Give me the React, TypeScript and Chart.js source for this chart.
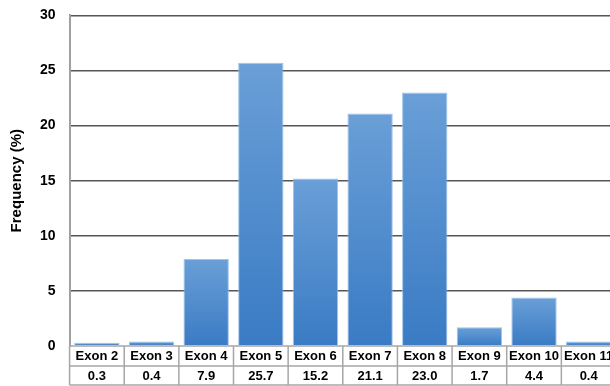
import React, { useEffect, useRef } from "react";
import { Chart, registerables } from "chart.js";

Chart.register(...registerables);

const categories = ["Exon 2", "Exon 3", "Exon 4", "Exon 5", "Exon 6", "Exon 7", "Exon 8", "Exon 9", "Exon 10", "Exon 11"];
const frequencies = [0.3, 0.4, 7.9, 25.7, 15.2, 21.1, 23.0, 1.7, 4.4, 0.4];
const yTicks = [0, 5, 10, 15, 20, 25, 30];

const FONT = "Arial, 'Liberation Sans', sans-serif";

const dataTable = {
  id: "dataTable",
  afterDraw(chart: any) {
    const { ctx, chartArea, scales } = chart;
    const x = scales.x;
    const top = chartArea.bottom;
    const mid = top + 20;
    const bot = top + 39;
    ctx.save();
    ctx.strokeStyle = "#a6a6a6";
    ctx.lineWidth = 1.5;
    ctx.beginPath();
    [top, mid, bot].forEach((yy) => {
      ctx.moveTo(chartArea.left, yy);
      ctx.lineTo(chartArea.right, yy);
    });
    const n = categories.length;
    const w = (chartArea.right - chartArea.left) / n;
    for (let i = 0; i <= n; i++) {
      const xx = chartArea.left + i * w;
      ctx.moveTo(xx, top);
      ctx.lineTo(xx, bot);
    }
    ctx.stroke();
    ctx.fillStyle = "#000";
    ctx.font = `bold 13px ${FONT}`;
    ctx.textAlign = "center";
    ctx.textBaseline = "middle";
    categories.forEach((c, i) => {
      const cx = x.getPixelForValue(i);
      ctx.fillText(c, cx, top + 10.5);
      ctx.fillText(frequencies[i].toFixed(1), cx, mid + 10);
    });
    ctx.restore();
  },
};

export default function App() {
  const ref = useRef<HTMLCanvasElement>(null);
  useEffect(() => {
    document.body.style.margin = "0";
    document.body.style.overflow = "hidden";
    const chart = new Chart(ref.current!, {
      type: "bar",
      data: {
        labels: categories,
        datasets: [
          {
            data: frequencies,
            backgroundColor: (c: any) => {
              const ch = c.chart;
              const ys = ch.scales.y;
              if (!ys || c.parsed == null) return "#4a88cc";
              const yt = ys.getPixelForValue(c.parsed.y ?? 0);
              const yb = ys.getPixelForValue(0);
              if (!isFinite(yt) || !isFinite(yb) || yb - yt < 0.5) return "#4a88cc";
              const g = ch.ctx.createLinearGradient(0, yt, 0, yb);
              g.addColorStop(0, "#6a9fd7");
              g.addColorStop(1, "#3a7bc4");
              return g;
            },
            borderColor: "rgba(150,188,230,0.9)",
            borderWidth: 1,
            barPercentage: 0.83,
            categoryPercentage: 1,
          },
        ],
      },
      options: {
        animation: false,
        responsive: false,
        maintainAspectRatio: false,
        layout: { padding: { top: 0, left: 8, right: 0, bottom: 40 } },
        plugins: { legend: { display: false }, tooltip: { enabled: false } },
        scales: {
          x: {
            display: false,
          },
          y: {
            min: 0,
            max: 30,
            afterBuildTicks: (s: any) => {
              s.ticks = yTicks.map((v) => ({ value: v }));
            },
            grid: { color: (c: any) => (c.tick && c.tick.value === 0 ? "rgba(0,0,0,0)" : "#555"), lineWidth: 1.6, drawTicks: false },
            border: { display: true, color: "#a0a0a0", width: 2 },
            ticks: {
              color: "#000",
              padding: 14,
              font: { family: FONT, size: 14, weight: "bold" },
            },
            title: {
              display: true,
              text: "Frequency (%)",
              color: "#000",
              font: { family: FONT, size: 15, weight: "bold" },
              padding: { top: 0, bottom: 0 },
            },
          },
        },
      },
      plugins: [dataTable],
    } as any);
    return () => chart.destroy();
  }, []);
  return (
    <div style={{ position: "fixed", left: 0, top: 0, width: 610, height: 386, overflow: "hidden", background: "#fff" }}>
      <canvas ref={ref} width={616} height={393} style={{ display: "block", marginTop: -7 }} />
    </div>
  );
}
